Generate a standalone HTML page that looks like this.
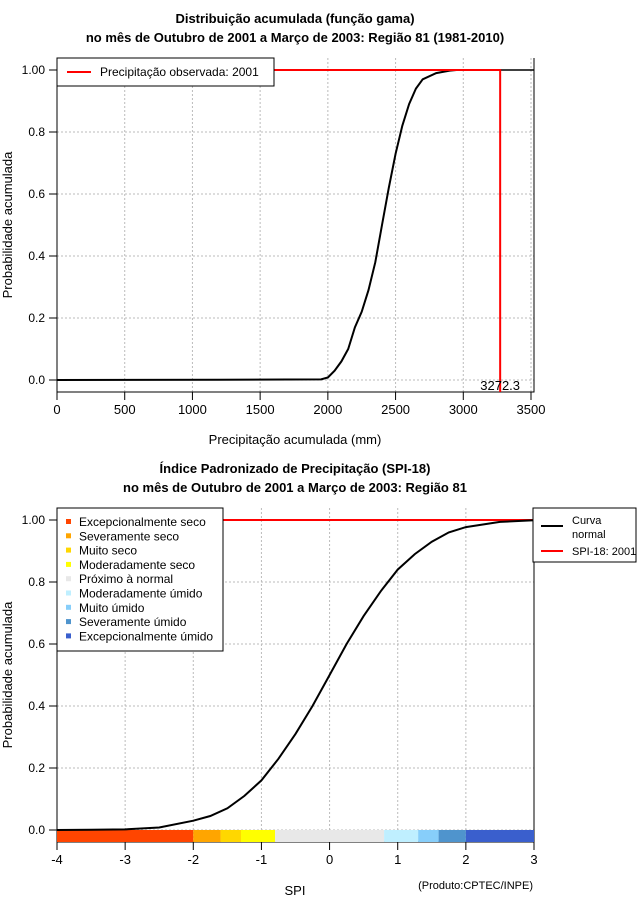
<!DOCTYPE html>
<html><head><meta charset="utf-8"><style>
body{margin:0;background:#fff;font-family:"Liberation Sans",sans-serif}
svg text{font-family:"Liberation Sans",sans-serif}
</style></head><body>
<svg id="c" width="640" height="900" xmlns="http://www.w3.org/2000/svg">
<text x="295" y="23" font-size="13" font-weight="bold" text-anchor="middle">Distribuição acumulada (função gama)</text>
<text x="295" y="42" font-size="13" font-weight="bold" text-anchor="middle">no mês de Outubro de 2001 a Março de 2003: Região 81 (1981-2010)</text>
<text x="295" y="444" font-size="13" text-anchor="middle">Precipitação acumulada (mm)</text>
<text x="12" y="225" font-size="13" text-anchor="middle" transform="rotate(-90 12 225)">Probabilidade acumulada</text>
<text x="295" y="473" font-size="13" font-weight="bold" text-anchor="middle">Índice Padronizado de Precipitação (SPI-18)</text>
<text x="295" y="492" font-size="13" font-weight="bold" text-anchor="middle">no mês de Outubro de 2001 a Março de 2003: Região 81</text>
<text x="295" y="895" font-size="13" text-anchor="middle">SPI</text>
<text x="12" y="675" font-size="13" text-anchor="middle" transform="rotate(-90 12 675)">Probabilidade acumulada</text>
<text x="533" y="889" font-size="11" text-anchor="end">(Produto:CPTEC/INPE)</text>
<g id="top"></g>
<g id="bot"></g>
</svg>
<script>
const precipMm=[0,1200,1950,2000,2050,2100,2150,2200,2250,2300,2350,2400,2450,2500,2550,2600,2650,2700,2800,2900,2950];
const gammaProb=[0,0.001,0.002,0.008,0.03,0.06,0.1,0.17,0.22,0.29,0.38,0.5,0.62,0.73,0.82,0.89,0.94,0.97,0.99,0.998,1];
const observedPrecip=3272.3;
const topXTicks=[0,500,1000,1500,2000,2500,3000,3500];
const yTicks=[0,0.2,0.4,0.6,0.8,1.0];
const yTickLabels=["0.0","0.2","0.4","0.6","0.8","1.00"];
const spiX=[-4,-3.5,-3,-2.5,-2,-1.75,-1.5,-1.25,-1,-0.75,-0.5,-0.25,0,0.25,0.5,0.75,1,1.25,1.5,1.75,2,2.5,3];
const normalProb=[0,0.0005,0.002,0.008,0.03,0.045,0.07,0.11,0.16,0.23,0.31,0.40,0.5,0.60,0.69,0.77,0.84,0.89,0.93,0.96,0.977,0.994,0.999];
const spiTicks=[-4,-3,-2,-1,0,1,2,3];
const classNames=["Excepcionalmente seco","Severamente seco","Muito seco","Moderadamente seco","Próximo à normal","Moderadamente úmido","Muito úmido","Severamente úmido","Excepcionalmente úmido"];
const classColors=["#ff4500","#ffa500","#ffd700","#ffff00","#e8e8e8","#bfefff","#87cefa","#4f94cd","#3a5fcd"];
const classBreaks=[-4,-2,-1.6,-1.3,-0.8,0.8,1.3,1.6,2,3];
const NS="http://www.w3.org/2000/svg";
function mk(p,t,a,txt){const e=document.createElementNS(NS,t);for(const k in a)e.setAttribute(k,a[k]);if(txt!=null)e.textContent=txt;p.appendChild(e);return e;}
function axes(g,x0,x1,y0,y1,xs,ys,xt,xl,boxB){
  for(const v of xt){const x=xs(v);
    let l=mk(g,'line',{x1:x,x2:x,y1:y0-12,y2:boxB,stroke:'#bbb','stroke-dasharray':'2,2'});
    
    l=mk(g,'line',{x1:x,x2:x,y1:boxB,y2:boxB+8,stroke:'#000'});
    
    const t=mk(g,'text',{x:x,y:boxB+22,'font-size':13,'text-anchor':'middle'},xl(v));
    }
  yTicks.forEach((v,i)=>{const y=ys(v);
    let l=mk(g,'line',{x1:x0,x2:x1,y1:y,y2:y,stroke:'#bbb','stroke-dasharray':'2,2'});
    
    l=mk(g,'line',{x1:x0-8,x2:x0,y1:y,y2:y,stroke:'#000'});
    
    const t=mk(g,'text',{x:x0-12,y:y+4,'font-size':12,'text-anchor':'end'},yTickLabels[i]);
    });
  const b=mk(g,'path',{d:`M${x0},${y0-12}V${boxB}H${x1}V${y0-12}`,fill:'none',stroke:'#000'});
  
}
// top
(function(){const g=document.getElementById('top');
const xs=v=>57+v*(474/3500), ys=p=>380-310*p;
axes(g,57,534,70,534,xs,ys,topXTicks,v=>String(v),392);
let d=precipMm.map((v,i)=>(i?'L':'M')+xs(v).toFixed(1)+','+ys(gammaProb[i]).toFixed(1)).join('');
let c=mk(g,'path',{d:d,fill:'none',stroke:'#000','stroke-width':2});

let f=mk(g,'line',{x1:xs(observedPrecip),x2:534,y1:ys(1),y2:ys(1),stroke:'#000','stroke-width':1.5});

let r=mk(g,'path',{d:`M57,${ys(1)}H${xs(observedPrecip)}V${ys(0)+12}`,fill:'none',stroke:'#f00','stroke-width':2});

let t=mk(g,'text',{x:xs(observedPrecip),y:ys(0)+10,'font-size':13,'text-anchor':'middle'},observedPrecip.toFixed(1));

const lg=mk(g,'g',{});
mk(lg,'rect',{x:57,y:58,width:217,height:28,fill:'#fff',stroke:'#000'});
mk(lg,'line',{x1:67,x2:91,y1:72,y2:72,stroke:'#f00','stroke-width':2});
let lt=mk(lg,'text',{x:100,y:76,'font-size':12},'Precipitação observada: 2001');

})();
// bottom
(function(){const g=document.getElementById('bot');
const xs=v=>57+(v+4)*(477/7), ys=p=>830-310*p;
axes(g,57,534,520,534,xs,ys,spiTicks,v=>String(v),842);
for(let i=0;i<classColors.length;i++){
  const r=mk(g,'rect',{x:xs(classBreaks[i]),y:830,width:xs(classBreaks[i+1])-xs(classBreaks[i]),height:12,fill:classColors[i]});
  }
let rl=mk(g,'line',{x1:57,x2:534,y1:ys(1),y2:ys(1),stroke:'#f00','stroke-width':2});

let d=spiX.map((v,i)=>(i?'L':'M')+xs(v).toFixed(1)+','+ys(normalProb[i]).toFixed(1)).join('');
let c=mk(g,'path',{d:d,fill:'none',stroke:'#000','stroke-width':2});

const lg=mk(g,'g',{});
mk(lg,'rect',{x:57,y:508,width:166,height:143,fill:'#fff',stroke:'#000'});
classNames.forEach((n,i)=>{const y=522+i*14.3;
  const s=mk(lg,'rect',{x:66,y:y-3,width:5,height:5,fill:classColors[i]});
  
  const t=mk(lg,'text',{x:79,y:y+4,'font-size':12},n);
  });
const l2=mk(g,'g',{});
mk(l2,'rect',{x:533,y:508,width:103,height:54,fill:'#fff',stroke:'#000'});
mk(l2,'line',{x1:541,x2:563,y1:526,y2:526,stroke:'#000','stroke-width':2});
mk(l2,'text',{x:572,y:524,'font-size':11},'Curva');
mk(l2,'text',{x:572,y:538,'font-size':11},'normal');
mk(l2,'line',{x1:541,x2:563,y1:551,y2:551,stroke:'#f00','stroke-width':2});
mk(l2,'text',{x:572,y:555,'font-size':11},'SPI-18: 2001');
})();
</script>
</body></html>
